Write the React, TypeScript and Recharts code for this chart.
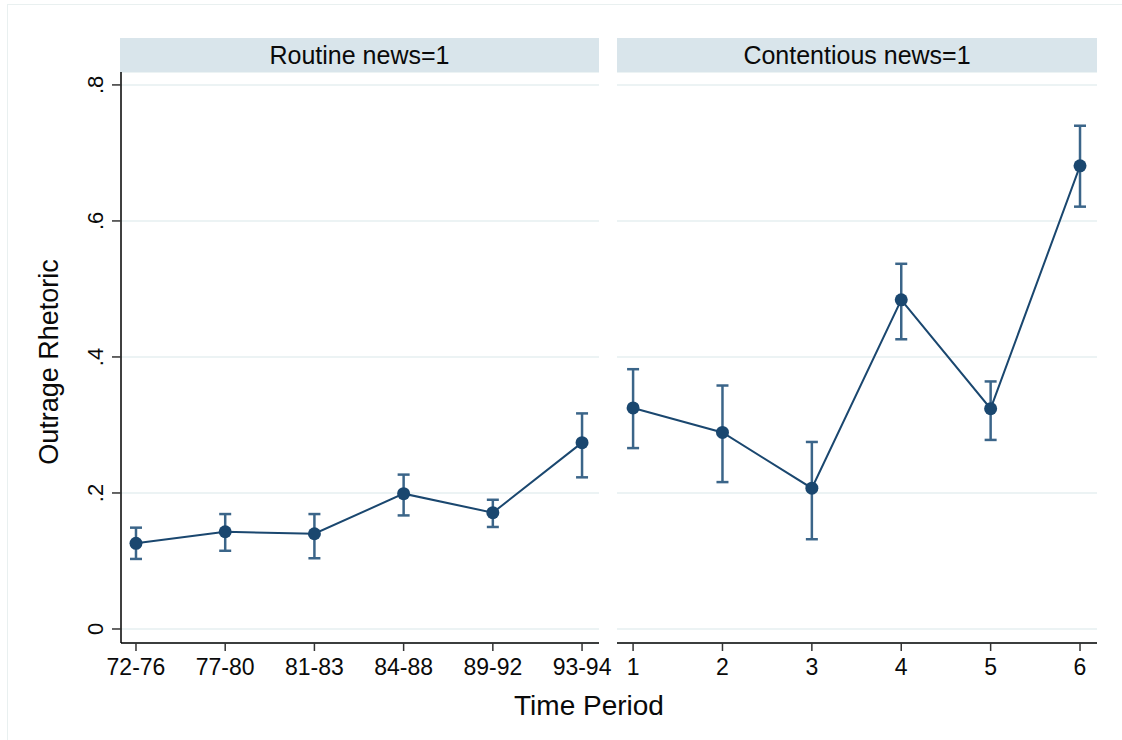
import React from "react";
import {
  LineChart,
  Line,
  XAxis,
  YAxis,
  CartesianGrid,
  ErrorBar,
} from "recharts";

// period labels for each panel
const routineLabels = ["72-76", "77-80", "81-83", "84-88", "89-92", "93-94"];
const contentiousLabels = ["1", "2", "3", "4", "5", "6"];

// means and 95% CI bounds
const routineMean = [0.126, 0.143, 0.14, 0.199, 0.171, 0.274];
const routineLow = [0.103, 0.115, 0.104, 0.167, 0.150, 0.223];
const routineHigh = [0.149, 0.169, 0.169, 0.227, 0.190, 0.317];

const contentiousMean = [0.325, 0.289, 0.207, 0.484, 0.324, 0.681];
const contentiousLow = [0.266, 0.216, 0.132, 0.426, 0.278, 0.621];
const contentiousHigh = [0.382, 0.358, 0.275, 0.537, 0.364, 0.74];

const yTicks = [0, 0.2, 0.4, 0.6, 0.8];

const NAVY = "#1a476f";
const CAP = "#3b6589";
const GRID = "#e6eff1";
const INK = "#0a0a0a";
const FONT = "'Liberation Sans', Arial, Helvetica, sans-serif";
const Y_DOMAIN: [number, number] = [-0.0206, 0.819];

function buildRows(mean: number[], low: number[], high: number[]) {
  return mean.map((m, i) => ({
    i,
    mean: m,
    err: [m - low[i], high[i] - m],
  }));
}

const fmtY = (v: number) => (v === 0 ? "0" : String(v).replace(/^0/, ""));

const YTick = (props: any) => {
  const { x, y, payload } = props;
  return (
    <text
      transform={`translate(${x},${y}) rotate(-90)`}
      textAnchor="middle"
      fontSize={22}
      fill={INK}
      fontFamily={FONT}
    >
      {fmtY(payload.value)}
    </text>
  );
};

interface PanelProps {
  labels: string[];
  mean: number[];
  low: number[];
  high: number[];
  width: number;
  margin: { top: number; right: number; bottom: number; left: number };
  showY: boolean;
  xDomain: [number, number];
}

function Panel({ labels, mean, low, high, width, margin, showY, xDomain }: PanelProps) {
  const rows = buildRows(mean, low, high);
  return (
    <LineChart width={width} height={740} data={rows} margin={margin}>
      <CartesianGrid vertical={false} stroke={GRID} strokeWidth={1.5} />
      <XAxis
        type="number"
        dataKey="i"
        domain={xDomain}
        ticks={[0, 1, 2, 3, 4, 5]}
        tickFormatter={(v: number) => labels[v]}
        interval={0}
        height={40}
        tickSize={8}
        tickMargin={8}
        axisLine={{ stroke: "#000", strokeWidth: 1.5 }}
        tickLine={{ stroke: "#333", strokeWidth: 1.5 }}
        tick={{ fontSize: 23, fill: INK, fontFamily: FONT }}
        allowDataOverflow
      />
      <YAxis
        type="number"
        domain={Y_DOMAIN}
        ticks={yTicks}
        interval={0}
        allowDataOverflow
        hide={!showY}
        width={121}
        tickSize={9}
        tickMargin={9}
        axisLine={{ stroke: "#000", strokeWidth: 1.5 }}
        tickLine={{ stroke: "#333", strokeWidth: 1.5 }}
        tick={<YTick />}
      />
      <Line
        type="linear"
        dataKey="mean"
        stroke={NAVY}
        strokeWidth={2}
        dot={{ r: 6.5, fill: NAVY, stroke: NAVY, strokeWidth: 0 }}
        activeDot={false}
        isAnimationActive={false}
      >
        <ErrorBar
          dataKey="err"
          direction="y"
          width={6}
          stroke={CAP}
          strokeWidth={2.5}
          isAnimationActive={false}
        />
      </Line>
    </LineChart>
  );
}

const stripStyle: React.CSSProperties = {
  position: "absolute",
  top: 38,
  height: 34,
  lineHeight: "34px",
  background: "#d9e5eb",
  textAlign: "center",
  fontSize: 25,
  color: INK,
  fontFamily: FONT,
};

export default function App() {
  return (
    <div
      style={{
        position: "absolute",
        left: 0,
        top: 0,
        width: 1122,
        height: 740,
        background: "#fff",
        overflow: "hidden",
        fontFamily: FONT,
      }}
    >
      {/* graph region outline */}
      <div
        style={{
          position: "absolute",
          left: 7,
          top: 4,
          width: 1200,
          height: 800,
          border: "1.5px solid #e9f0f0",
        }}
      />
      <div style={{ position: "absolute", left: 0, top: 0 }}>
        <Panel
          labels={routineLabels}
          mean={routineMean}
          low={routineLow}
          high={routineHigh}
          width={625}
          margin={{ top: 72, right: 26, bottom: 57, left: 0 }}
          showY
          xDomain={[-0.168, 5.19]}
        />
      </div>
      <div style={{ position: "absolute", left: 605, top: 0 }}>
        <Panel
          labels={contentiousLabels}
          mean={contentiousMean}
          low={contentiousLow}
          high={contentiousHigh}
          width={517}
          margin={{ top: 72, right: 25, bottom: 57, left: 12 }}
          showY={false}
          xDomain={[-0.18, 5.19]}
        />
      </div>
      <div style={{ ...stripStyle, left: 120, width: 479 }}>Routine news=1</div>
      <div style={{ ...stripStyle, left: 617, width: 480 }}>Contentious news=1</div>
      <svg
        width={1122}
        height={740}
        style={{ position: "absolute", left: 0, top: 0, pointerEvents: "none" }}
      >
        <text
          transform="translate(58,362) rotate(-90)"
          textAnchor="middle"
          fontSize={27}
          fill={INK}
          fontFamily={FONT}
        >
          Outrage Rhetoric
        </text>
        <text
          x={589}
          y={715}
          textAnchor="middle"
          fontSize={28}
          fill={INK}
          fontFamily={FONT}
        >
          Time Period
        </text>
      </svg>
    </div>
  );
}
